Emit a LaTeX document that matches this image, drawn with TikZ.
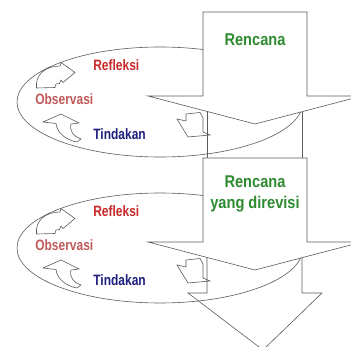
\documentclass[tikz,border=0pt]{standalone}
\usepackage{fontspec}
\setmainfont{Liberation Sans}
\newfontfamily\labfont{Liberation Sans}[FakeStretch=0.8]
\newfontfamily\planfont{Liberation Sans}[FakeStretch=0.86]
\definecolor{lineg}{HTML}{5A5A5A}
\definecolor{rencg}{HTML}{2E8B30}
\definecolor{refr}{HTML}{C82828}
\definecolor{obsr}{HTML}{C05A5A}
\definecolor{tindb}{HTML}{1E1E7C}
\begin{document}
\begin{tikzpicture}[x=1pt,y=-1pt,line width=0.6pt,
  outl/.style={draw=lineg,line join=miter},
  wfill/.style={outl,fill=white},
  lab/.style={inner sep=0pt,anchor=base west,font=\labfont\fontsize{15}{18}\selectfont\bfseries},
  plan/.style={inner sep=0pt,anchor=base,font=\planfont\fontsize{17}{21}\selectfont\bfseries,text=rencg}]
\useasboundingbox (0,0) rectangle (351,347);
\clip (0,0) rectangle (351,347);
% ---------- unit 1 ----------
\begin{scope}
  \draw[outl] (160,102) ellipse [x radius=143,y radius=55];
  \draw[outl] (207,100) -- (207,160) (302,100) -- (302,160);
  \draw[outl] (36.5,88) -- (55,87.5) -- (56,84) -- (59.5,83.5) -- (61,80) -- (63,82.5) -- (75,72.5) -- (61,62.5) -- (60,66) .. controls (45,66) and (35,75) .. (36.5,88) -- cycle;
  \draw[outl] (43,122) -- (61,114) -- (79,123) -- (71,124) .. controls (69,131) and (74,137) .. (81,139) -- (77,142) .. controls (66,140) and (57,133) .. (56,123.5) -- cycle;
  \draw[outl] (177,119) -- (186,121) -- (186,114) -- (200,112.5) -- (203,118) -- (203,132) -- (210,135) -- (188,137) -- cycle;
  \draw[wfill] (203,12) -- (307,12) -- (307,96) -- (362,96) -- (255,124) -- (148,96) -- (203,96) -- cycle;
  \node[plan] (r1) at (255,46) {Rencana};
  \node[lab,text=refr] (f1) at (93,71) {Refleksi};
  \node[lab,text=obsr] (o1) at (35,105) {Observasi};
  \node[lab,text=tindb] (t1) at (93,140) {Tindakan};
\end{scope}
% ---------- unit 2 ----------
\begin{scope}[shift={(0,146)}]
  \draw[outl] (160,102) ellipse [x radius=143,y radius=55];
  \draw[outl] (207,100) -- (207,147) -- (188,147) -- (263,204) -- (322,147) -- (302,147) -- (302,100);
  \draw[outl] (36.5,88) -- (55,87.5) -- (56,84) -- (59.5,83.5) -- (61,80) -- (63,82.5) -- (75,72.5) -- (61,62.5) -- (60,66) .. controls (45,66) and (35,75) .. (36.5,88) -- cycle;
  \draw[outl] (43,122) -- (61,114) -- (79,123) -- (71,124) .. controls (69,131) and (74,137) .. (81,139) -- (77,142) .. controls (66,140) and (57,133) .. (56,123.5) -- cycle;
  \draw[outl] (177,119) -- (186,121) -- (186,114) -- (200,112.5) -- (203,118) -- (203,132) -- (210,135) -- (188,137) -- cycle;
  \draw[wfill] (203,12) -- (307,12) -- (307,96) -- (362,96) -- (255,124) -- (148,96) -- (203,96) -- cycle;
  \node[plan] (r2) at (255,42) {Rencana};
  \node[plan] (r2b) at (255,63) {yang direvisi};
  \node[lab,text=refr] (f2) at (93,71) {Refleksi};
  \node[lab,text=obsr] (o2) at (35,105) {Observasi};
  \node[lab,text=tindb] (t2) at (93,140) {Tindakan};
\end{scope}
\end{tikzpicture}
\end{document}
